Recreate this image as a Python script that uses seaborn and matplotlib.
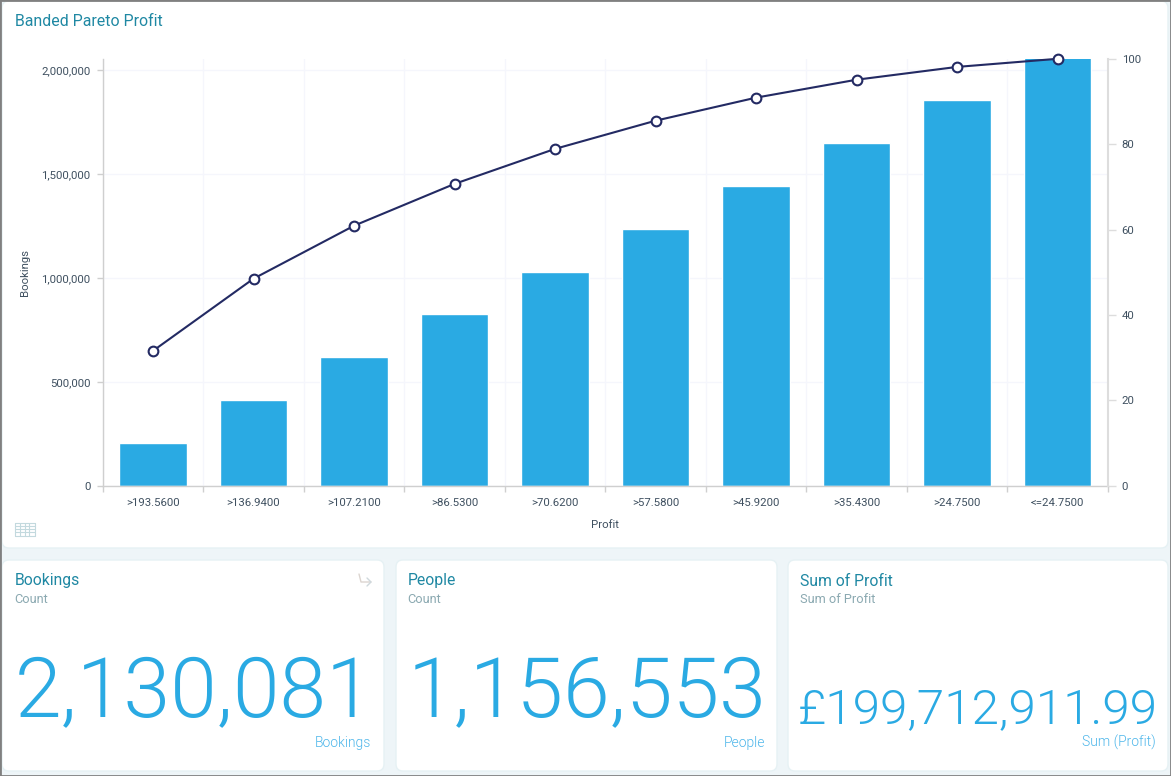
import matplotlib
matplotlib.use("Agg")
from matplotlib import pyplot as plt
from matplotlib.patches import FancyBboxPatch, Rectangle
from matplotlib.lines import Line2D
import pandas as pd
import seaborn as sns

# Values
profit_bands = [">193.5600", ">136.9400", ">107.2100", ">86.5300", ">70.6200",
                ">57.5800", ">45.9200", ">35.4300", ">24.7500", "<=24.7500"]
bookings = [208000, 411000, 619000, 827000, 1030000, 1238000, 1445000, 1652000, 1857000, 2063000]
cumulative_pct = [31.6, 48.5, 60.9, 70.7, 78.9, 85.5, 90.9, 95.1, 98.1, 100]
left_ticks = [0, 500000, 1000000, 1500000, 2000000]
right_ticks = [0, 20, 40, 60, 80, 100]

card_titles = ["Bookings", "People", "Sum of Profit"]
card_subtitles = ["Count", "Count", "Sum of Profit"]
card_values = ["2,130,081", "1,156,553", "£199,712,911.99"]
card_footers = ["Bookings", "People", "Sum (Profit)"]

W, H = 1171, 776
TEAL = "#1f88a3"
SUBTLE = "#8ba9b1"
BLUE = "#2aaae3"
FOOTER = "#4db6ea"
NAVY = "#232a63"
TICK = "#3f5060"

sns.set_theme(style="white")
plt.rcParams["font.family"] = ["Roboto", "DejaVu Sans"]

fig = plt.figure(figsize=(W / 100, H / 100), dpi=100, facecolor="#eef5f8")


# dashboard furniture is placed in screen pixels
def fx(x):
    return x / W


def fy(y):
    return 1 - y / H


def card(x0, y0, x1, y1):
    fig.add_artist(FancyBboxPatch((x0, H - y1), x1 - x0, y1 - y0, boxstyle="round,pad=0,rounding_size=7",
                                  transform=None, fc="white", ec="#e6f1f4", lw=1, zorder=-2))


def label(x, y, s, size, color, **kw):
    kw.setdefault("va", "center")
    fig.text(fx(x), fy(y), s, fontsize=size, color=color, **kw)


card(2, 1, 1168, 548)
card(2, 560, 384, 771)
card(396, 560, 777, 771)
card(788, 560, 1168, 771)
fig.add_artist(Rectangle((0, 0), W, H, transform=None, fc="none", ec="#808080", lw=2, zorder=-1))

label(15, 21.5, "Banded Pareto Profit", 11.4, TEAL)

df = pd.DataFrame({"Profit": profit_bands, "Bookings": bookings, "Pct": cumulative_pct})

ax = fig.add_axes([fx(102.8), fy(485.7), fx(1107.8 - 102.8), (485.7 - 58.8) / H])
ax.patch.set_alpha(0)
sns.barplot(data=df, x="Profit", y="Bookings", color=BLUE, saturation=1, width=0.672, ax=ax, zorder=2)
ax.set_xlim(-0.5, 9.5)
ax.set_ylim(0, 2056000)
ax.set_yticks(left_ticks)
ax.set_yticklabels([f"{v:,}" for v in left_ticks], fontsize=8.2, color=TICK)
ax.set_xticks(range(10))
ax.set_xticklabels(profit_bands, fontsize=8.2, color=TICK)
ax.set_xticks([i - 0.5 for i in range(11)], minor=True)
ax.tick_params(axis="x", which="major", length=0, pad=9)
ax.tick_params(axis="x", which="minor", length=4, color="#cfcfcf", width=1, bottom=True)
ax.tick_params(axis="y", length=4, color="#cfcfcf", width=1, left=True, pad=5)
ax.set_axisbelow(True)
ax.grid(True, axis="y", color="#f5f6fc", lw=1, zorder=0)
ax.grid(True, axis="x", which="minor", color="#f5f6fc", lw=1, zorder=0)
ax.set_xlabel("Profit", fontsize=8.2, color=TICK, labelpad=8.5)
ax.set_ylabel("Bookings", fontsize=8.2, color=TICK, labelpad=8)
for side in ["top", "right"]:
    ax.spines[side].set_visible(False)
for side in ["left", "bottom"]:
    ax.spines[side].set_color("#cfcfcf")
    ax.spines[side].set_linewidth(1)

ax2 = ax.twinx()
sns.lineplot(data=df, x="Profit", y="Pct", color=NAVY, lw=1.5, marker="o", ms=7, mfc="white",
             mec=NAVY, mew=1.5, ax=ax2, clip_on=False, zorder=5)
ax2.set_ylim(0, 100)
ax2.set_yticks(right_ticks)
ax2.set_yticklabels(right_ticks, fontsize=8.2, color=TICK)
ax2.set_xlabel("")
ax2.set_ylabel("")
ax2.tick_params(axis="y", length=6, color="#dddddd", width=1, right=True, pad=4)
ax2.grid(False)
for side in ["top", "left", "bottom"]:
    ax2.spines[side].set_visible(False)
ax2.spines["right"].set_color("#dddddd")
ax2.spines["right"].set_linewidth(1.5)

# table icon, bottom left of the chart card
for x in [15, 19.8, 24.6, 29.4, 35]:
    fig.add_artist(Line2D([fx(x), fx(x)], [fy(522.5), fy(535.5)], color="#c3d9de", lw=0.8))
for y in [522.5, 525.7, 529, 532.2, 535.5]:
    fig.add_artist(Line2D([fx(15), fx(35)], [fy(y), fy(y)], color="#c3d9de", lw=0.8))

# bent arrow on the Bookings card
fig.add_artist(Line2D([fx(359), fx(361), fx(371)], [fy(574), fy(582), fy(582)], color="#dcd5d0", lw=1))
fig.add_artist(Line2D([fx(367), fx(371), fx(367)], [fy(578), fy(582), fy(586)], color="#cfd8dc", lw=1))

# KPI cards
title_x = [15, 408, 800]
footer_x = [371, 765, 1156]
value_x = [15, 408, 798]
value_base = [717.5, 717.5, 723]
value_size = [60.6, 60.6, 35.6]
for i in range(3):
    label(title_x[i], 581, card_titles[i], 11.3, TEAL)
    label(title_x[i] - 0.5, 599.5, card_subtitles[i], 9.2, SUBTLE)
    label(value_x[i], value_base[i], card_values[i], value_size[i], BLUE, fontweight=300, va="baseline")
    label(footer_x[i], 742.5, card_footers[i], 10, FOOTER, ha="right", fontweight=300)

fig.savefig("out.png", dpi=100, facecolor=fig.get_facecolor())
